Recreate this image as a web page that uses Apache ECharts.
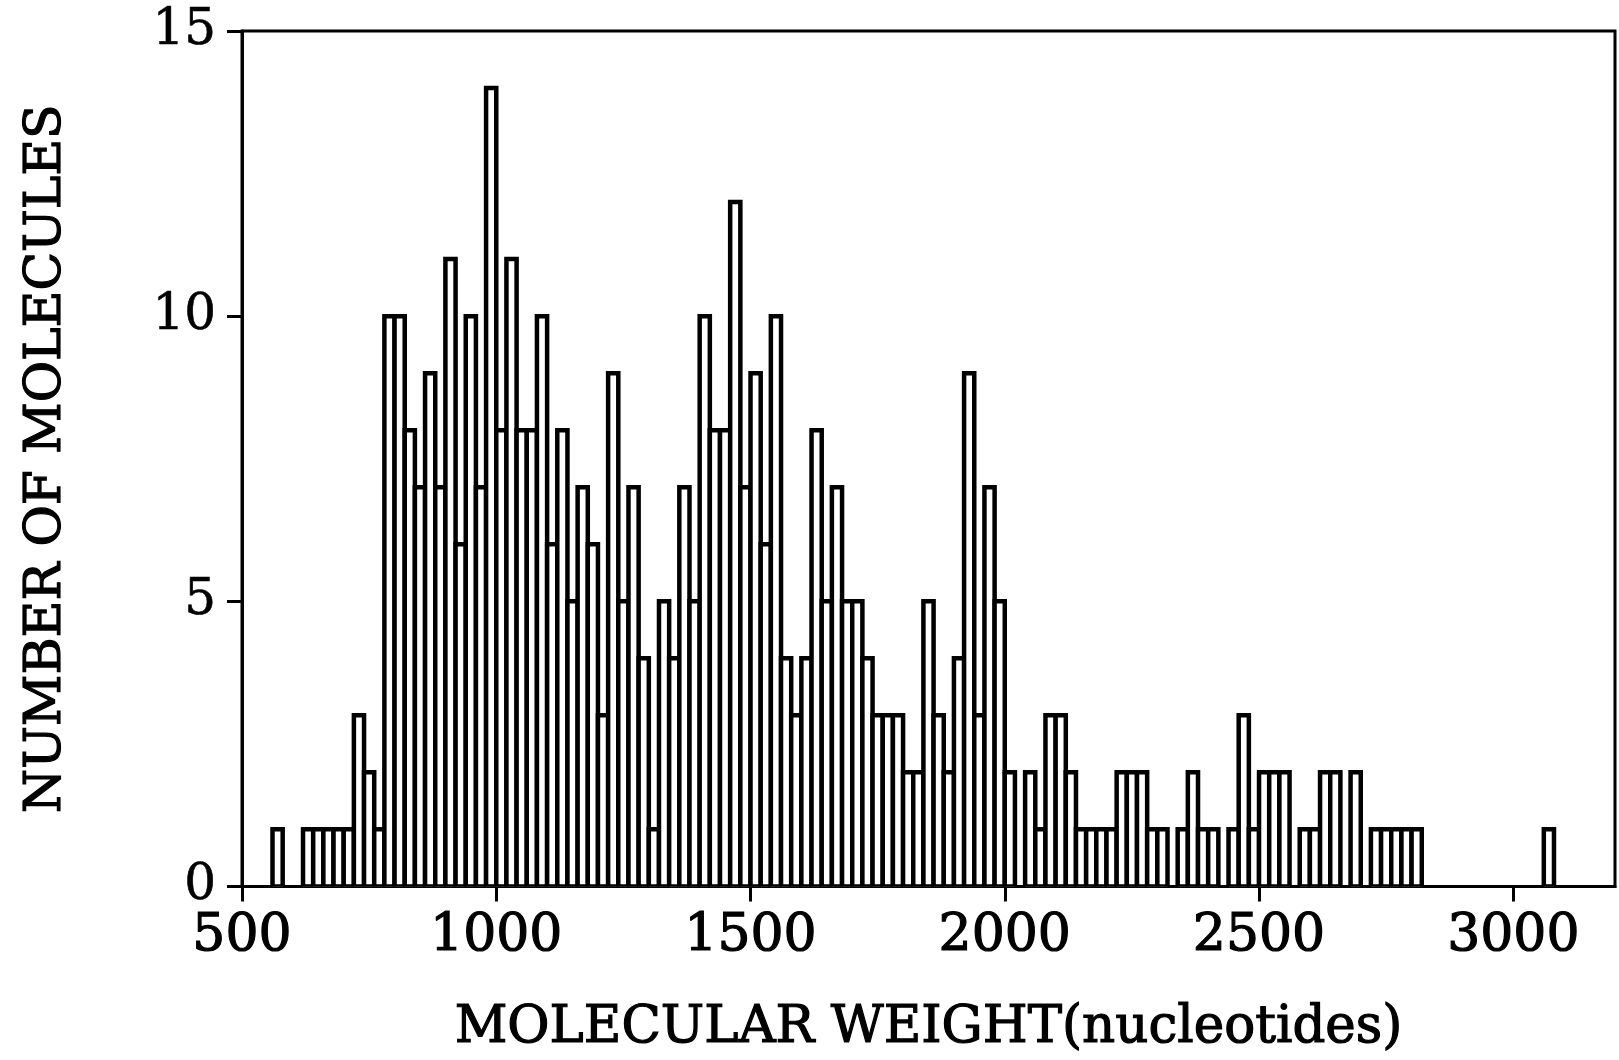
<!DOCTYPE html>
<html>
<head>
<meta charset="utf-8">
<title>Molecular weight histogram</title>
<script src="https://cdn.jsdelivr.net/npm/echarts@6/dist/echarts.min.js"></script>
<style>
  html, body { margin: 0; padding: 0; background: #fff; }
  #chart { width: 1619px; height: 1060px; }
</style>
</head>
<body>
<div id="chart"></div>
<script>
// left edge of each non-empty 20-nt bin, and how many molecules fell in it
var binStarts = [
  560, 620, 640, 660, 680, 700, 720, 740, 760, 780,
  800, 820, 840, 860, 880, 900, 920, 940, 960, 980,
  1000, 1020, 1040, 1060, 1080, 1100, 1120, 1140, 1160, 1180,
  1200, 1220, 1240, 1260, 1280, 1300, 1320, 1340, 1360, 1380,
  1400, 1420, 1440, 1460, 1480, 1500, 1520, 1540, 1560, 1580,
  1600, 1620, 1640, 1660, 1680, 1700, 1720, 1740, 1760, 1780,
  1800, 1820, 1840, 1860, 1880, 1900, 1920, 1940, 1960, 1980,
  2000, 2040, 2060, 2080, 2100, 2120, 2140, 2160, 2180, 2200,
  2220, 2240, 2260, 2280, 2300, 2340, 2360, 2380, 2400, 2440,
  2460, 2480, 2500, 2520, 2540, 2580, 2600, 2620, 2640, 2680,
  2720, 2740, 2760, 2780, 2800, 3060
];
var counts = [
  1, 1, 1, 1, 1, 1, 3, 2, 1, 10,
  10, 8, 7, 9, 7, 11, 6, 10, 7, 14,
  8, 11, 8, 8, 10, 6, 8, 5, 7, 6,
  3, 9, 5, 7, 4, 1, 5, 4, 7, 5,
  10, 8, 8, 12, 7, 9, 6, 10, 4, 3,
  4, 8, 5, 7, 5, 5, 4, 3, 3, 3,
  2, 2, 5, 3, 2, 4, 9, 3, 7, 5,
  2, 2, 1, 3, 3, 2, 1, 1, 1, 1,
  2, 2, 2, 1, 1, 1, 2, 1, 1, 1,
  3, 1, 2, 2, 2, 1, 1, 2, 2, 2,
  1, 1, 1, 1, 1, 1
];
var binWidth = 20;
var xTicks = [500, 1000, 1500, 2000, 2500, 3000];
var yTicks = [0, 5, 10, 15];

var xTitle = 'MOLECULAR WEIGHT(nucleotides)';
var yTitle = 'NUMBER OF MOLECULES';

var font = 'DejaVu Serif';

var bins = binStarts.map(function (s, i) {
  return [s, s + binWidth, counts[i]];
});

var chart = echarts.init(document.getElementById('chart'), null, { renderer: 'canvas' });

var option = {
  backgroundColor: '#fff',
  animation: false,
  grid: {
    left: 242,
    right: 4,
    top: 31,
    bottom: 172,
    show: true,
    borderColor: '#000',
    borderWidth: 3
  },
  xAxis: {
    type: 'value',
    min: 500,
    max: 3200,
    interval: 500,
    name: xTitle,
    nameLocation: 'middle',
    nameGap: 116,
    nameTextStyle: {
      fontFamily: font,
      fontSize: 51.5,
      color: '#000',
      textBorderColor: '#000',
      textBorderWidth: 1.2
    },
    axisLine: { lineStyle: { color: '#000', width: 3 } },
    axisTick: {
      show: true,
      length: 15,
      customValues: xTicks,
      lineStyle: { color: '#000', width: 3 }
    },
    axisLabel: {
      customValues: xTicks,
      margin: 24,
      formatter: function (v) { return String(v); },
      fontFamily: font,
      fontSize: 52,
      color: '#000',
      textBorderColor: '#000',
      textBorderWidth: 1.2
    },
    splitLine: { show: false }
  },
  yAxis: {
    type: 'value',
    min: 0,
    max: 15,
    interval: 5,
    name: yTitle,
    nameLocation: 'middle',
    nameGap: 170,
    nameTextStyle: {
      fontFamily: font,
      fontSize: 50.5,
      color: '#000',
      textBorderColor: '#000',
      textBorderWidth: 1.2
    },
    axisLine: { show: true, lineStyle: { color: '#000', width: 3 } },
    axisTick: {
      show: true,
      length: 15,
      customValues: yTicks,
      lineStyle: { color: '#000', width: 3 }
    },
    axisLabel: {
      customValues: yTicks,
      margin: 26,
      fontFamily: font,
      fontSize: 50,
      color: '#000',
      textBorderColor: '#000',
      textBorderWidth: 0.6
    },
    splitLine: { show: false }
  },
  series: [{
    name: 'molecules',
    type: 'custom',
    clip: true,
    renderItem: function (params, api) {
      var p0 = api.coord([api.value(0), 0]);
      var p1 = api.coord([api.value(1), api.value(2)]);
      return {
        type: 'rect',
        shape: {
          x: p0[0],
          y: p1[1],
          width: p1[0] - p0[0],
          height: p0[1] - p1[1]
        },
        style: {
          fill: '#fff',
          stroke: '#000',
          lineWidth: 4.5
        }
      };
    },
    encode: { x: [0, 1], y: 2 },
    data: bins
  }]
};

chart.setOption(option);
</script>
</body>
</html>
